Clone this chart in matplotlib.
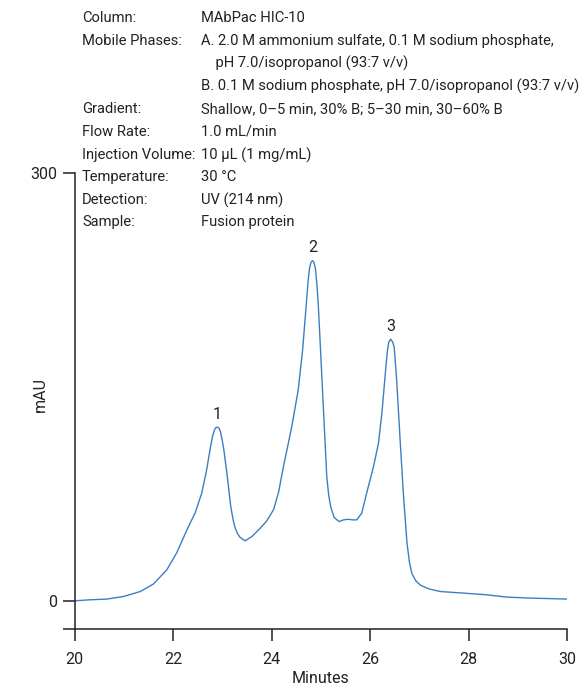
import matplotlib
matplotlib.use("Agg")
import matplotlib.pyplot as plt

plt.rcParams['font.family'] = ['Roboto', 'DejaVu Sans']

# Chromatogram (minutes, mAU)
minutes = [20.0, 20.31, 20.65, 20.99, 21.33, 21.60, 21.87, 22.07, 22.28, 22.45,
           22.58, 22.68, 22.76, 22.80, 22.84, 22.87, 22.90, 22.93, 22.96, 23.00,
           23.03, 23.10, 23.17, 23.22, 23.26, 23.31, 23.36, 23.46, 23.60, 23.77,
           23.90, 24.04, 24.14, 24.24, 24.41, 24.54, 24.63, 24.70, 24.74, 24.77,
           24.80, 24.83, 24.86, 24.89, 24.92, 24.95, 25.01, 25.07, 25.12, 25.16,
           25.20, 25.27, 25.37, 25.46, 25.56, 25.65, 25.73, 25.83, 25.93, 26.07,
           26.17, 26.24, 26.31, 26.35, 26.38, 26.42, 26.46, 26.49, 26.54, 26.61,
           26.68, 26.75, 26.80, 26.85, 26.93, 27.02, 27.20, 27.43, 27.90, 28.37,
           28.78, 29.25, 30.0]
mau = [0.0, 0.7, 1.2, 3.0, 6.5, 11.8, 21.7, 33.5, 49.8, 62.0,
       75.5, 91.9, 108.2, 115.5, 120.0, 121.6, 121.8, 121.2, 118.8, 112.0,
       105.9, 87.2, 66.1, 56.5, 51.0, 47.0, 44.5, 42.1, 45.1, 51.0,
       56.0, 64.0, 76.0, 94.2, 122.3, 148.0, 176.1, 206.4, 224.0, 233.5,
       237.5, 238.7, 237.5, 233.0, 222.0, 206.4, 164.3, 122.3, 87.2, 74.0,
       66.0, 58.5, 55.6, 56.8, 57.2, 56.8, 56.8, 61.5, 75.5, 94.2,
       110.6, 131.7, 159.7, 175.0, 181.5, 183.6, 181.5, 178.0, 155.0, 112.9,
       73.2, 40.5, 27.0, 19.0, 14.0, 11.0, 8.3, 6.5, 5.4, 4.2,
       2.6, 1.9, 1.2]

peak_labels = ["1", "2", "3"]
peak_times = [22.90, 24.83, 26.42]
peak_heights = [121.8, 238.7, 183.6]

x_ticks = [20, 22, 24, 26, 28, 30]
y_ticks = [0, 300]

info_keys = ["Column:", "Mobile Phases:", "", "", "Gradient:", "Flow Rate:",
             "Injection Volume:", "Temperature:", "Detection:", "Sample:"]
info_values = ["MAbPac HIC-10",
               "A. 2.0 M ammonium sulfate, 0.1 M sodium phosphate,",
               "    pH 7.0/isopropanol (93:7 v/v)",
               "B. 0.1 M sodium phosphate, pH 7.0/isopropanol (93:7 v/v)",
               "Shallow, 0\u20135 min, 30% B; 5\u201330 min, 30\u201360% B",
               "1.0 mL/min",
               "10 \u00b5L (1 mg/mL)",
               "30 \u00b0C",
               "UV (214 nm)",
               "Fusion protein"]

W, H = 585, 689
fig = plt.figure(figsize=(W / 100, H / 100), dpi=100)
ax = fig.add_axes([74.7 / W, 1 - 629.3 / H, (567 - 74.7) / W, (629.3 - 173.3) / H])

txt_color = "#222222"
fs = 10.6
lab_fs = 11.5
line_color = "#3d7ebf"
ax.plot(minutes, mau, color=line_color, lw=1.0)

for lab, t, h in zip(peak_labels, peak_times, peak_heights):
    ax.annotate(lab, (t, h), xytext=(0, 4), textcoords="offset points",
                ha="center", va="bottom", fontsize=lab_fs, color=txt_color)

ax.set_xlim(20, 30)
ax.set_ylim(-20, 300)
ax.set_xticks(x_ticks)
ax.set_xticklabels([str(v) for v in x_ticks])
ax.set_yticks([-20] + y_ticks)
ax.set_yticklabels([""] + [str(v) for v in y_ticks])

for s in ["top", "right"]:
    ax.spines[s].set_visible(False)
for s in ["left", "bottom"]:
    ax.spines[s].set_linewidth(1.1)
    ax.spines[s].set_color(txt_color)
ax.tick_params(axis="both", direction="out", length=8.5, width=1.1,
               color=txt_color, labelsize=lab_fs, labelcolor=txt_color)
ax.tick_params(axis="x", pad=8)
ax.tick_params(axis="y", pad=4)

ax.set_xlabel("Minutes", fontsize=lab_fs, color=txt_color, labelpad=3)
fig.text(40 / W, 1 - 395 / H, "mAU", rotation=90, ha="center", va="center",
         fontsize=lab_fs, color=txt_color)

# Conditions block
row_y = [18, 41, 63, 86, 109, 132, 155, 177, 200, 222]
for y, k, v in zip(row_y, info_keys, info_values):
    fig.text(82 / W, 1 - y / H, k, ha="left", va="center", fontsize=fs, color=txt_color)
    fig.text(201 / W, 1 - y / H, v, ha="left", va="center", fontsize=fs, color=txt_color)

fig.savefig("out.png", dpi=100)
